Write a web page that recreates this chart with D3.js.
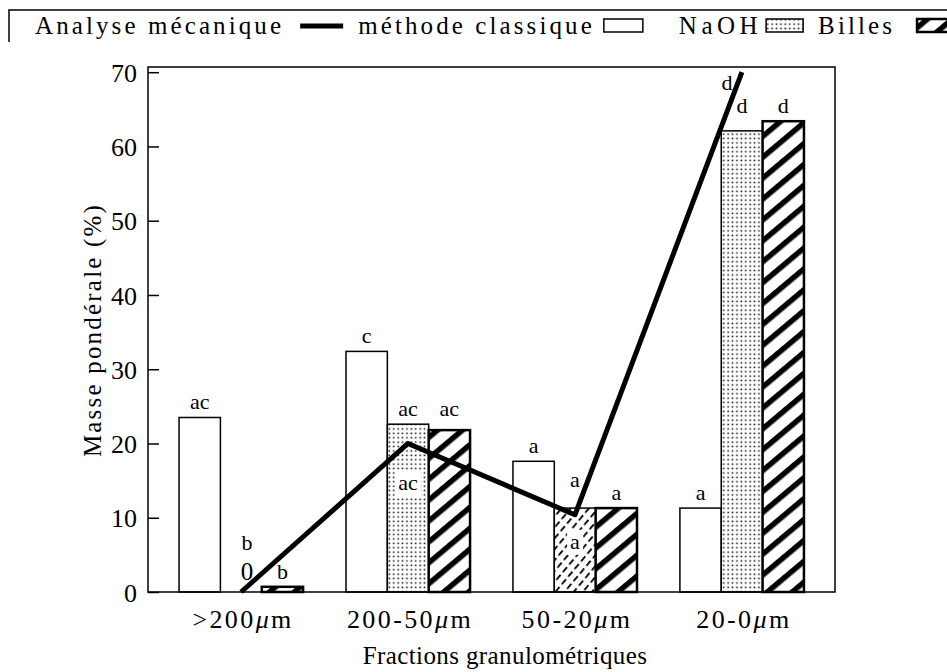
<!DOCTYPE html>
<html>
<head>
<meta charset="utf-8">
<script src="https://cdn.jsdelivr.net/npm/d3@7"></script>
<style>
  html, body { margin: 0; padding: 0; background: #fff; }
  svg { display: block; }
</style>
</head>
<body>
<svg id="chart" width="947" height="672"></svg>
<script>
// Fractions granulométriques (x) and masse pondérale in % (y)
const categories = [">200", "200-50", "50-20", "20-0"];
const seriesKeys = ["naoh", "billes", "hach"];
const naoh = [23.5, 32.4, 17.6, 11.3];
const billes = [0, 22.6, 11.3, 62.1];
const hach = [0.7, 21.8, 11.3, 63.4];
const classique = [0, 20, 10.4, 70];
// letters of the statistical groups
const lettresNaoh = ["ac", "c", "a", "a"];
const lettresBilles = ["b", "ac", "a", "d"];
const lettresHach = ["b", "ac", "a", "d"];
const lettresClassique = ["", "ac", "a", "d"];
const yTicks = [0, 10, 20, 30, 40, 50, 60, 70];

const values = { naoh, billes, hach };
const SERIF = "'Liberation Serif', 'Times New Roman', serif";

const svg = d3.select("#chart").attr("font-family", SERIF);
const frame = { left: 148, right: 835, top: 67, bottom: 592 };

const defs = svg.append("defs");
// fine dot screen
const pDots = defs.append("pattern").attr("id", "pDots")
  .attr("patternUnits", "userSpaceOnUse").attr("width", 4.4).attr("height", 4.4);
pDots.append("rect").attr("width", 4.4).attr("height", 4.4).attr("fill", "#fff");
pDots.append("rect").attr("x", 1.4).attr("y", 1.4).attr("width", 1.5).attr("height", 1.5).attr("fill", "#000");
// thick diagonal stripes
const pHach = defs.append("pattern").attr("id", "pHach")
  .attr("patternUnits", "userSpaceOnUse").attr("width", 16).attr("height", 16)
  .attr("patternTransform", "rotate(50)");
pHach.append("rect").attr("width", 16).attr("height", 16).attr("fill", "#fff");
pHach.append("rect").attr("width", 5.5).attr("height", 16).attr("fill", "#000");
// fine dashed stripes
const pFine = defs.append("pattern").attr("id", "pFine")
  .attr("patternUnits", "userSpaceOnUse").attr("width", 7).attr("height", 10)
  .attr("patternTransform", "rotate(40)");
pFine.append("rect").attr("width", 7).attr("height", 10).attr("fill", "#fff");
pFine.append("rect").attr("width", 1.8).attr("height", 6.5).attr("fill", "#000");

const x0 = d3.scaleBand().domain(categories).range([frame.left, frame.right])
  .paddingInner(0.257).paddingOuter(0.186);
const x1 = d3.scaleBand().domain(seriesKeys).range([0, x0.bandwidth()]);
const y = d3.scaleLinear().domain([0, 70.7]).range([frame.bottom, frame.top]);

const fillOf = (key, i) => {
  if (key === "naoh") return "#fff";
  if (key === "hach") return "url(#pHach)";
  return categories[i] === "50-20" ? "url(#pFine)" : "url(#pDots)";
};

// bars
const gBars = svg.append("g");
categories.forEach((c, i) => {
  seriesKeys.forEach(k => {
    const v = values[k][i];
    if (v <= 0) return;
    gBars.append("rect")
      .attr("x", x0(c) + x1(k))
      .attr("y", y(v))
      .attr("width", x1.bandwidth())
      .attr("height", y(0) - y(v))
      .attr("fill", fillOf(k, i))
      .attr("stroke", "#000")
      .attr("stroke-width", k === "hach" ? 2.5 : 1.5);
  });
});

// frame
svg.append("rect")
  .attr("x", frame.left).attr("y", frame.top)
  .attr("width", frame.right - frame.left).attr("height", frame.bottom - frame.top)
  .attr("fill", "none").attr("stroke", "#000").attr("stroke-width", 1.5);

// y axis
const yAxis = d3.axisLeft(y).tickValues(yTicks).tickSizeInner(-11).tickSizeOuter(0).tickPadding(11);
const gy = svg.append("g").attr("transform", `translate(${frame.left},0)`).call(yAxis);
gy.attr("font-family", SERIF).attr("font-size", 26);
gy.select(".domain").remove();
gy.selectAll("line").attr("stroke", "#000").attr("stroke-width", 1.5);
gy.selectAll("text").attr("fill", "#000").attr("dy", "0.35em");

// x category labels
const gx = svg.append("g").attr("font-size", 26).attr("letter-spacing", 2.4).attr("text-anchor", "middle");
categories.forEach(c => {
  const t = gx.append("text")
    .attr("x", x0(c) + x0.bandwidth() / 2 + 2)
    .attr("y", 628);
  t.append("tspan").text(c);
  t.append("tspan").attr("font-style", "italic").text("μ");
  t.append("tspan").text("m");
});

// axis titles
svg.append("text")
  .attr("x", 505).attr("y", 664)
  .attr("text-anchor", "middle").attr("font-size", 25).attr("letter-spacing", 0.4)
  .text("Fractions granulométriques");
svg.append("text")
  .attr("transform", "translate(101,330) rotate(-90)")
  .attr("text-anchor", "middle").attr("font-size", 25).attr("letter-spacing", 2.2)
  .text("Masse pondérale (%)");

// line: méthode classique
const cx = (i) => x0(categories[i]) + x1("billes") + x1.bandwidth() / 2;
const line = d3.line().x((d, i) => cx(i)).y(d => y(d));
svg.append("path")
  .attr("d", line(classique))
  .attr("fill", "none").attr("stroke", "#000").attr("stroke-width", 5)
  .attr("stroke-linejoin", "round");

// letters
const gLab = svg.append("g").attr("font-size", 22).attr("text-anchor", "middle");
const barX = (k, i) => x0(categories[i]) + x1(k) + x1.bandwidth() / 2;
categories.forEach((c, i) => {
  gLab.append("text").attr("x", barX("naoh", i)).attr("y", y(naoh[i]) - 8).text(lettresNaoh[i]);
  const top = y(Math.max(billes[i], hach[i])) - 8;
  if (billes[i] === 0) {
    gLab.append("text").attr("x", barX("billes", i) + 6).attr("y", y(0) - 12).attr("font-size", 25).text("0");
    gLab.append("text").attr("x", barX("billes", i) + 6).attr("y", y(0) - 42).text(lettresBilles[i]);
  } else {
    let by = top;
    if (Math.abs(y(classique[i]) - y(billes[i])) < 15) by = Math.min(by, y(classique[i]) - 28);
    gLab.append("text").attr("x", barX("billes", i)).attr("y", by).text(lettresBilles[i]);
  }
  gLab.append("text").attr("x", barX("hach", i)).attr("y", top).text(lettresHach[i]);
});

// letters of the classical method, set inside the bars on a white ground
const insideDy = [0, 47, 34];
categories.forEach((c, i) => {
  const txt = lettresClassique[i];
  if (!txt) return;
  if (i === categories.length - 1) {
    gLab.append("text").attr("x", cx(i) - 15).attr("y", y(classique[i]) + 18).text(txt);
    return;
  }
  const t = gLab.append("text").attr("x", cx(i)).attr("y", y(classique[i]) + insideDy[i]).text(txt);
  const b = t.node().getBBox();
  gLab.insert("rect", () => t.node())
    .attr("x", b.x - 3).attr("y", b.y + 1).attr("width", b.width + 6).attr("height", b.height)
    .attr("fill", "#fff");
});

// legend
const lg = svg.append("g").attr("font-size", 25).attr("letter-spacing", 3.1);
lg.append("path").attr("d", "M9,42 V10 H947").attr("fill", "none").attr("stroke", "#000").attr("stroke-width", 1.5);
const baseY = 34;
let lx = 35;
const addText = (s, gap, extra) => {
  const t = lg.append("text").attr("x", lx).attr("y", baseY).text(s);
  if (extra) t.attr("letter-spacing", extra);
  lx += t.node().getComputedTextLength() + gap;
};
const addSwatch = (fill, w, gap, sw) => {
  lg.append("rect").attr("x", lx).attr("y", baseY - 15).attr("width", w).attr("height", 13)
    .attr("fill", fill).attr("stroke", "#000").attr("stroke-width", sw);
  lx += w + gap;
};
addText("Analyse mécanique", 16);
lg.append("line").attr("x1", lx).attr("x2", lx + 43).attr("y1", baseY - 8).attr("y2", baseY - 8)
  .attr("stroke", "#000").attr("stroke-width", 5);
lx += 43 + 15;
addText("méthode classique", 9);
addSwatch("#fff", 39, 36, 1.5);
addText("NaOH", 4, 4.5);
addSwatch("url(#pDots)", 37, 15, 1.5);
addText("Billes", 22);
addSwatch("url(#pHach)", 40, 10, 2.5);
</script>
</body>
</html>
